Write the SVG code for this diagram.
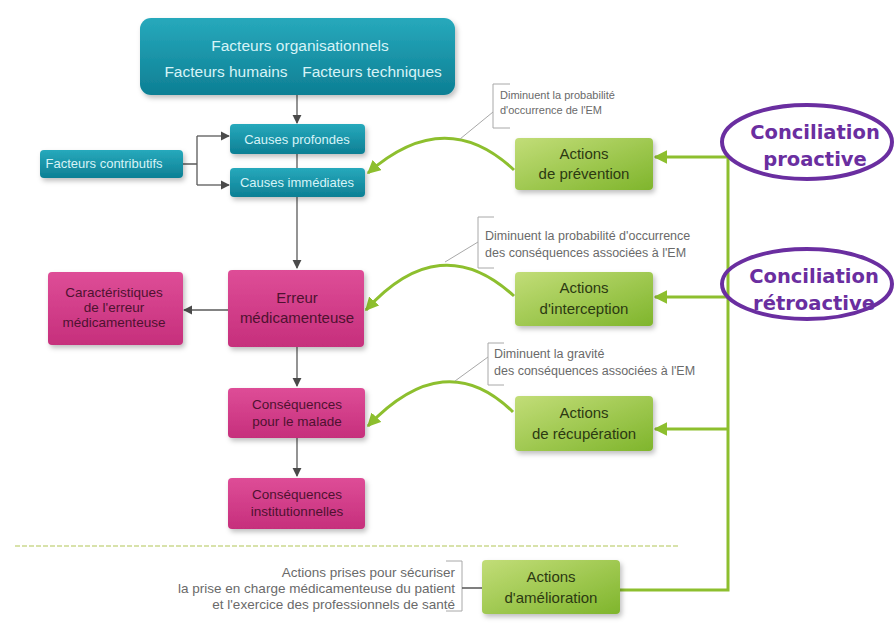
<svg xmlns="http://www.w3.org/2000/svg" width="895" height="624" viewBox="0 0 895 624">
<style>
.tl{fill:#d6f3f7;font-family:"Liberation Sans",Arial,sans-serif;font-size:13px;text-anchor:middle}
.pk{fill:#4e1230;font-family:"Liberation Sans",Arial,sans-serif;font-size:13.5px;text-anchor:middle}
.gr{fill:#2c3a12;font-family:"Liberation Sans",Arial,sans-serif;font-size:15px;text-anchor:middle}
.an{fill:#6a6a6a;font-family:"Liberation Sans",Arial,sans-serif;font-size:12.5px}
.cc{fill:#6a2ea0;font-family:"DejaVu Sans",Verdana,sans-serif;font-size:19.5px;font-weight:bold;text-anchor:middle}
.ln{stroke:#5a5a5a;stroke-width:1.3;fill:none}
.gl{stroke:#8dbf2e;stroke-width:3;fill:none}
.br{stroke:#a8a8a8;stroke-width:1;fill:none}
.el{fill:none;stroke:#6a2ea0;stroke-width:4}
</style>
<defs>
<linearGradient id="gt" x1="0" y1="0" x2="0" y2="1"><stop offset="0" stop-color="#27a9bc"/><stop offset="1" stop-color="#0d7f94"/></linearGradient>
<linearGradient id="gp" x1="0" y1="0" x2="0" y2="1"><stop offset="0" stop-color="#de4d97"/><stop offset="1" stop-color="#c62f7c"/></linearGradient>
<linearGradient id="gg" x1="0" y1="0" x2="1" y2="1"><stop offset="0" stop-color="#c2dd78"/><stop offset="1" stop-color="#7fb52c"/></linearGradient>
<filter id="sh" x="-10%" y="-10%" width="130%" height="140%"><feDropShadow dx="2" dy="3" stdDeviation="2.5" flood-color="#000" flood-opacity="0.25"/></filter>
<marker id="ad" viewBox="0 0 10 10" refX="9" refY="5" markerWidth="7" markerHeight="7" orient="auto"><path d="M0,0 L10,5 L0,10 z" fill="#4a4a4a"/></marker>
<marker id="ag" viewBox="0 0 10 10" refX="9" refY="5" markerWidth="4.5" markerHeight="4.5" orient="auto"><path d="M0,0 L10,5 L0,10 z" fill="#8dbf2e"/></marker>
</defs>
<rect width="895" height="624" fill="#ffffff"/>

<g id="connectors">
<path class="ln" d="M297,95 V123" marker-end="url(#ad)"/>
<path class="ln" d="M297,154 V168"/>
<path class="ln" d="M297,197 V268" marker-end="url(#ad)"/>
<path class="ln" d="M183,164 H197 M197,136 V185"/>
<path class="ln" d="M197,136 H229" marker-end="url(#ad)"/>
<path class="ln" d="M197,185 H229" marker-end="url(#ad)"/>
<path class="ln" d="M228,310 H184" marker-end="url(#ad)"/>
<path class="ln" d="M297,347 V386" marker-end="url(#ad)"/>
<path class="ln" d="M297,438 V476" marker-end="url(#ad)"/>
<path d="M15,546 H680" stroke="#cbd98f" stroke-width="1.5" stroke-dasharray="5,2" fill="none"/>
<path class="gl" d="M728,157 V590 H620"/>
<path class="gl" d="M728,157 H655" marker-end="url(#ag)"/>
<path class="gl" d="M728,297 H655" marker-end="url(#ag)"/>
<path class="gl" d="M728,429 H655" marker-end="url(#ag)"/>
<path class="gl" d="M514,170 Q445,105 368,173" marker-end="url(#ag)"/>
<path class="gl" d="M514,296 Q440,228 366,310" marker-end="url(#ag)"/>
<path class="gl" d="M513,412 Q445,345 368,426" marker-end="url(#ag)"/>
<path class="br" d="M460,139 L493,112 M510,84 H493 V128 H510"/>
<path class="br" d="M445,262 L478,242 M494,217 H478 V268 H494"/>
<path class="br" d="M455,381 L488,357 M504,343 H488 V385 H504"/>
<path class="br" d="M446,561 H462 V611 H446"/>
<path d="M462,588 H482" stroke="#555" stroke-width="1.5"/>
</g>

<g id="facteurs-top">
<rect x="140" y="18" width="315" height="77" rx="11" fill="url(#gt)" filter="url(#sh)"/>
<text class="tl" x="300" y="51" style="font-size:15.5px">Facteurs organisationnels</text>
<text class="tl" x="226" y="77" style="font-size:15.5px">Facteurs humains</text>
<text class="tl" x="372" y="77" style="font-size:15.5px">Facteurs techniques</text>
</g>
<g id="causes-profondes">
<rect x="230" y="124" width="135" height="30" rx="4" fill="url(#gt)" filter="url(#sh)"/>
<text class="tl" x="297" y="144">Causes profondes</text>
</g>
<g id="causes-immediates">
<rect x="230" y="168" width="135" height="29" rx="4" fill="url(#gt)" filter="url(#sh)"/>
<text class="tl" x="297" y="187">Causes immédiates</text>
</g>
<g id="facteurs-contributifs">
<rect x="40" y="150" width="143" height="28" rx="4" fill="url(#gt)" filter="url(#sh)"/>
<text class="tl" x="104" y="168">Facteurs contributifs</text>
</g>

<g id="erreur">
<rect x="228" y="270" width="136" height="77" rx="4" fill="url(#gp)" filter="url(#sh)"/>
<text class="pk" x="297" y="303" style="font-size:15px">Erreur</text>
<text class="pk" x="297" y="323" style="font-size:15px">médicamenteuse</text>
</g>
<g id="caracteristiques">
<rect x="48" y="272" width="135" height="73" rx="4" fill="url(#gp)" filter="url(#sh)"/>
<text class="pk" x="114" y="297">Caractéristiques</text>
<text class="pk" x="114" y="312">de l'erreur</text>
<text class="pk" x="114" y="327">médicamenteuse</text>
</g>
<g id="consequences-malade">
<rect x="228" y="388" width="137" height="50" rx="4" fill="url(#gp)" filter="url(#sh)"/>
<text class="pk" x="297" y="409">Conséquences</text>
<text class="pk" x="297" y="426">pour le malade</text>
</g>
<g id="consequences-institutionnelles">
<rect x="228" y="478" width="137" height="51" rx="4" fill="url(#gp)" filter="url(#sh)"/>
<text class="pk" x="297" y="499">Conséquences</text>
<text class="pk" x="297" y="516">institutionnelles</text>
</g>

<g id="actions-prevention">
<rect x="515" y="138" width="138" height="52" rx="4" fill="url(#gg)" filter="url(#sh)"/>
<text class="gr" x="584" y="159">Actions</text>
<text class="gr" x="584" y="179">de prévention</text>
</g>
<g id="actions-interception">
<rect x="515" y="272" width="138" height="54" rx="4" fill="url(#gg)" filter="url(#sh)"/>
<text class="gr" x="584" y="293">Actions</text>
<text class="gr" x="584" y="314">d'interception</text>
</g>
<g id="actions-recuperation">
<rect x="515" y="396" width="138" height="55" rx="4" fill="url(#gg)" filter="url(#sh)"/>
<text class="gr" x="584" y="418">Actions</text>
<text class="gr" x="584" y="439">de récupération</text>
</g>
<g id="actions-amelioration">
<rect x="482" y="560" width="138" height="54" rx="4" fill="url(#gg)" filter="url(#sh)"/>
<text class="gr" x="551" y="582">Actions</text>
<text class="gr" x="551" y="603">d'amélioration</text>
</g>

<g id="note-prevention">
<text class="an" x="500" y="99" style="font-size:11px">Diminuent la probabilité</text>
<text class="an" x="500" y="114" style="font-size:11px">d'occurrence de l'EM</text>
</g>
<g id="note-interception">
<text class="an" x="485" y="240">Diminuent la probabilité  d'occurrence</text>
<text class="an" x="485" y="257">des conséquences associées à  l'EM</text>
</g>
<g id="note-recuperation">
<text class="an" x="494" y="358">Diminuent la gravité</text>
<text class="an" x="494" y="375">des conséquences associées à l'EM</text>
</g>
<g id="note-amelioration">
<text class="an" x="455" y="577" text-anchor="end" style="font-size:13.5px">Actions prises pour sécuriser</text>
<text class="an" x="455" y="593" text-anchor="end" style="font-size:13.5px">la prise en charge médicamenteuse du patient</text>
<text class="an" x="455" y="609" text-anchor="end" style="font-size:13.5px">et l'exercice des professionnels de santé</text>
</g>

<g id="conciliation-proactive">
<ellipse class="el" cx="807" cy="142" rx="85" ry="37" fill="#fff"/>
<text class="cc" x="815" y="139">Conciliation</text>
<text class="cc" x="815" y="166">proactive</text>
</g>
<g id="conciliation-retroactive">
<ellipse class="el" cx="807" cy="284" rx="85" ry="35" fill="#fff"/>
<text class="cc" x="814" y="283">Conciliation</text>
<text class="cc" x="814" y="310">rétroactive</text>
</g>
</svg>
